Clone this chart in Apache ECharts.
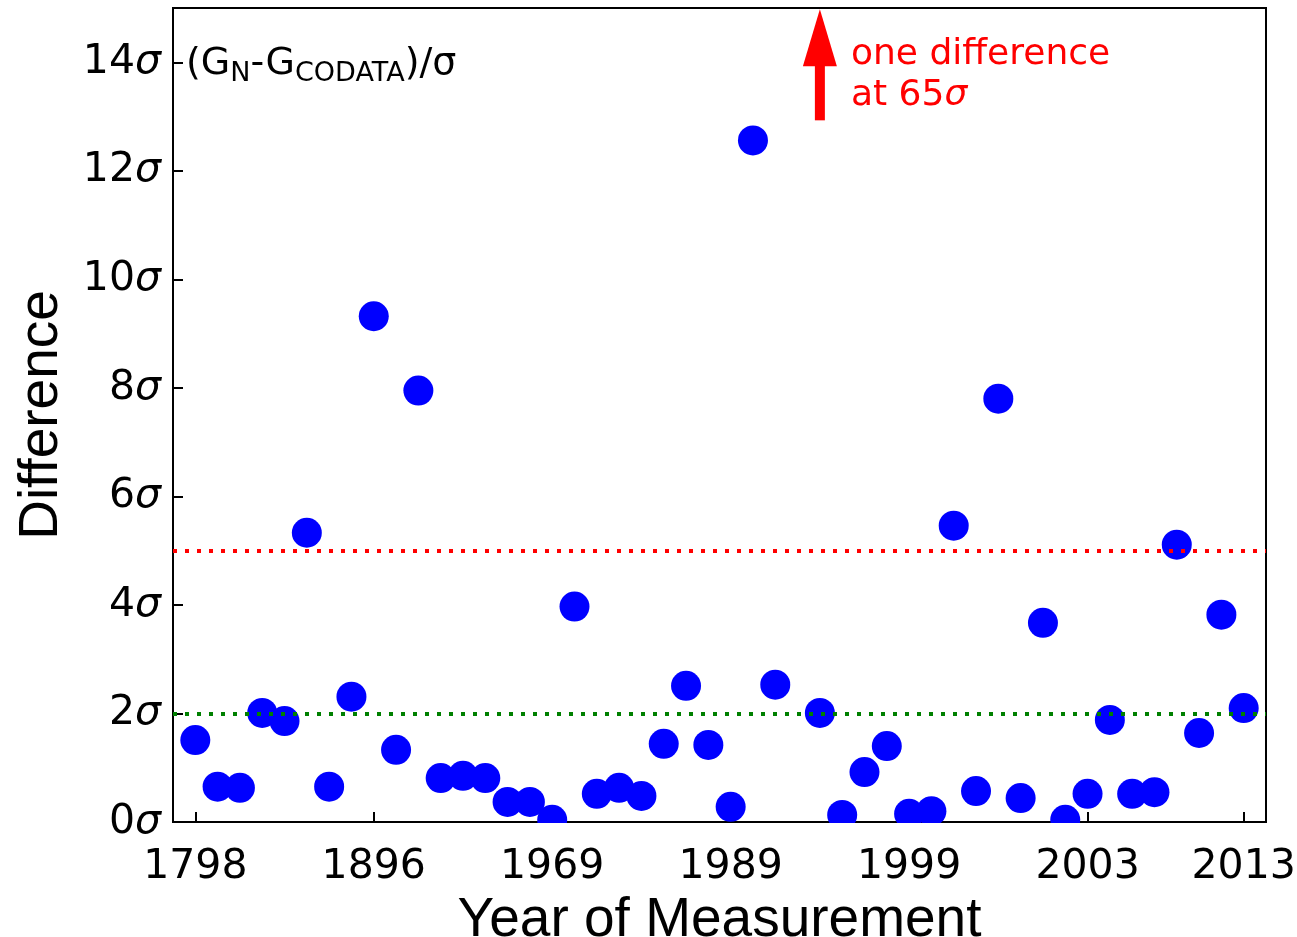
<!DOCTYPE html>
<html>
<head>
<meta charset="utf-8">
<script src="https://cdn.jsdelivr.net/npm/echarts@6/dist/echarts.min.js"></script>
<style>
  html, body { margin: 0; padding: 0; background: #fff; }
  #chart { width: 1297px; height: 937px; }
</style>
</head>
<body>
<div id="chart"></div>
<script>
// measurement index (0..47), difference in sigma; index 27 is the 65 sigma one (off scale)
const measIdx = [0, 1, 2, 3, 4, 5, 6, 7, 8, 9, 10, 11, 12, 13, 14, 15, 16, 17, 18, 19, 20, 21, 22, 23, 24, 25, 26,
  28, 29, 30, 31, 32, 33, 34, 35, 36, 37, 38, 39, 40, 41, 42, 43, 44, 45, 46, 47];
const diffSigma = [1.51, 0.65, 0.63, 2.01, 1.86, 5.33, 0.65, 2.31, 9.32, 1.33, 7.95, 0.81, 0.85, 0.81, 0.37, 0.37, 0.04,
  3.97, 0.52, 0.63, 0.48, 1.44, 2.51, 1.42, 0.28, 12.56, 2.53,
  2.01, 0.13, 0.92, 1.40, 0.15, 0.20, 5.46, 0.57, 7.80, 0.44, 3.67, 0.04, 0.52, 1.88, 0.52, 0.55, 5.11, 1.64, 3.82, 2.10];

// labelled ticks on the x axis
const tickIdx = [0, 8, 16, 24, 32, 40, 47];
const tickYears = ['1798', '1896', '1969', '1989', '1999', '2003', '2013'];

// reference lines
const redLine = 5;
const greenLine = 2;

// arrow pointing at the off-scale point
const arrowIdx = 28;
const arrowY = [12.93, 14.2, 14.45]; // shaft start, shaft end, head centre

// category axis spans -1..48 so the frame has room either side
const cats = [];
for (let i = -1; i <= 48; i++) cats.push(String(i));
const toCat = (i) => i + 1;

const tickFont = 'DejaVu Sans';
const tickSize = 41;

const chart = echarts.init(document.getElementById('chart'));
const option = {
  animation: false,
  backgroundColor: '#fff',
  grid: {
    left: 173, right: 31, top: 8, bottom: 115,
    outerBoundsMode: 'none',
    containLabel: false,
    show: true, borderColor: '#000', borderWidth: 2, backgroundColor: 'transparent'
  },
  xAxis: {
    type: 'category',
    data: cats,
    boundaryGap: false,
    name: 'Year of Measurement',
    nameLocation: 'middle',
    nameGap: 62,
    nameTextStyle: { fontFamily: 'Liberation Sans', fontSize: 55, color: '#000' },
    axisLine: { lineStyle: { color: '#000', width: 2 } },
    axisTick: {
      inside: true, length: 10, lineStyle: { color: '#000', width: 2 },
      interval: (i) => tickIdx.indexOf(i - 1) >= 0
    },
    axisLabel: {
      interval: (i) => tickIdx.indexOf(i - 1) >= 0,
      formatter: (v) => {
        const k = tickIdx.indexOf(Number(v));
        return k >= 0 ? tickYears[k] : '';
      },
      fontFamily: tickFont, fontSize: tickSize, color: '#000', margin: 25
    },
    splitLine: { show: false }
  },
  yAxis: {
    type: 'value',
    min: 0, max: 15, interval: 2,
    name: 'Difference',
    nameLocation: 'middle',
    nameGap: 104,
    nameRotate: 90,
    nameTextStyle: { fontFamily: 'Liberation Sans', fontSize: 55, color: '#000' },
    axisLine: { show: true, lineStyle: { color: '#000', width: 2 } },
    axisTick: { show: true, inside: true, length: 10, lineStyle: { color: '#000', width: 2 } },
    axisLabel: {
      showMaxLabel: false,
      formatter: (v) => v > 14 ? '' : v + '{s|σ}',
      fontFamily: tickFont, fontSize: tickSize, color: '#000', margin: 12,
      rich: { s: { fontFamily: tickFont, fontSize: tickSize, fontStyle: 'italic', color: '#000' } }
    },
    splitLine: { show: false }
  },
  series: [
    {
      type: 'scatter',
      data: measIdx.map((m, i) => [toCat(m), diffSigma[i]]),
      symbol: 'circle',
      symbolSize: 30,
      itemStyle: { color: '#0000ff', opacity: 1 },
      z: 3,
      markLine: {
        silent: true,
        symbol: ['none', 'none'],
        label: { show: false },
        data: [
          { yAxis: redLine, lineStyle: { color: '#ff0000', width: 4, type: [4, 8] } },
          { yAxis: greenLine, lineStyle: { color: '#008000', width: 4, type: [4, 8] } }
        ]
      }
    },
    {
      // arrow shaft
      type: 'line',
      data: [[toCat(arrowIdx), arrowY[0]], [toCat(arrowIdx), arrowY[1]]],
      symbol: 'none',
      lineStyle: { color: '#ff0000', width: 10, cap: 'butt' },
      z: 4
    },
    {
      // arrow head
      type: 'scatter',
      data: [[toCat(arrowIdx), arrowY[2]]],
      symbol: 'triangle',
      symbolSize: [34, 57],
      itemStyle: { color: '#ff0000', opacity: 1 },
      z: 4
    }
  ],
  graphic: [
    {
      // hide the parts of markers that spill under the bottom spine
      type: 'rect', z: 100,
      shape: { x: 174, y: 823, width: 1091, height: 16 },
      style: { fill: '#fff' }
    },
    {
      type: 'text', left: 186, top: 45, z: 101,
      style: {
        text: '(G{sub|N}-G{sub|CODATA})/σ',
        fontFamily: 'DejaVu Sans', fontSize: 38, fill: '#000',
        rich: {
          sub: { fontFamily: 'DejaVu Sans', fontSize: 27, padding: [20, 0, 0, 0], fill: '#000' }
        }
      }
    },
    {
      type: 'text', left: 851, top: 34, z: 101,
      style: {
        text: 'one difference\nat 65{s|σ}',
        fontFamily: 'DejaVu Sans', fontSize: 36, lineHeight: 41, fill: '#ff0000',
        rich: {
          s: { fontFamily: 'DejaVu Sans', fontSize: 36, lineHeight: 41, fontStyle: 'italic', fill: '#ff0000' }
        }
      }
    }
  ]
};
chart.setOption(option);
</script>
</body>
</html>
